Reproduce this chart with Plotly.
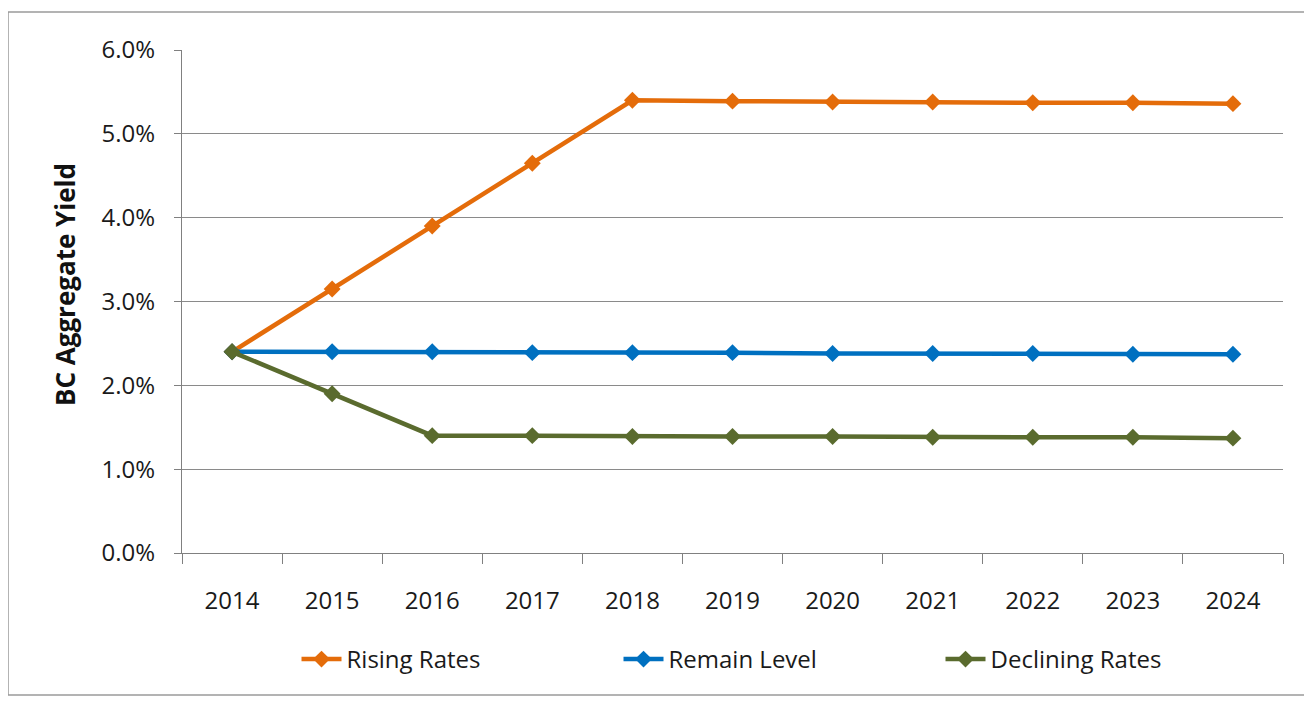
import plotly.graph_objects as go

# data (percent)
years = ["2014", "2015", "2016", "2017", "2018", "2019", "2020", "2021", "2022", "2023", "2024"]
rising_rates = [2.40, 3.15, 3.90, 4.65, 5.40, 5.39, 5.38, 5.38, 5.37, 5.37, 5.36]
remain_level = [2.40, 2.40, 2.40, 2.39, 2.39, 2.39, 2.38, 2.38, 2.38, 2.37, 2.37]
declining_rates = [2.40, 1.90, 1.40, 1.40, 1.39, 1.39, 1.39, 1.38, 1.38, 1.38, 1.37]

series = [
    ("Rising Rates", rising_rates, "#E46C0A"),
    ("Remain Level", remain_level, "#0070C0"),
    ("Declining Rates", declining_rates, "#5A6B2E"),
]

FONT = "Open Sans, sans-serif"
# page body keeps its default 8px margin, so the figure is a bit smaller
W, H = 1296, 688
ML, MR, MT, MB = 174, 21, 42, 143

fig = go.Figure()
for name, vals, col in series:
    fig.add_trace(go.Scatter(
        x=years, y=vals, name=name, mode="lines+markers",
        line=dict(color=col, width=4.5),
        marker=dict(symbol="diamond", size=13, color=col),
    ))

fig.update_xaxes(
    type="category", range=[-0.5, len(years) - 0.5],
    tickson="boundaries", ticks="outside", ticklen=10,
    tickcolor="#808080", showline=True, linecolor="#808080", linewidth=1,
    showgrid=False, tickfont=dict(size=24, color="#1a1a1a"),
    ticklabelstandoff=26, automargin=False,
)
fig.update_yaxes(
    range=[0, 6], dtick=1, tickformat=".1f", ticksuffix="%",
    ticks="outside", ticklen=7, tickcolor="#808080",
    showline=True, linecolor="#808080", linewidth=1,
    showgrid=True, gridcolor="#8a8a8a", gridwidth=1, zeroline=False,
    tickfont=dict(size=24, color="#1a1a1a"), ticklabelstandoff=14,
    automargin=False,
)

pw, ph = W - ML - MR, H - MT - MB

# y axis title, placed a little above the plot centre as in the original
fig.add_annotation(
    text="<b>BC Aggregate Yield</b>", textangle=-90,
    xref="paper", yref="paper", xanchor="center", yanchor="middle",
    x=(57 - ML) / pw, y=(H - MB - 277) / ph,
    showarrow=False, font=dict(size=26, color="#111111"),
)

# outer chart frame
fig.add_shape(
    type="rect", xref="paper", yref="paper",
    x0=(0 - ML) / pw, x1=(1297 - ML) / pw,
    y0=(H - MB - 687) / ph, y1=(H - MB - 4) / ph,
    line=dict(color="#9a9a9a", width=1.5),
)

fig.update_layout(
    width=W, height=H,
    margin=dict(l=ML, r=MR, t=MT, b=MB),
    font=dict(family=FONT, color="#1a1a1a"),
    plot_bgcolor="white", paper_bgcolor="white",
    showlegend=True,
    legend=dict(
        orientation="h", x=0.104, xanchor="left", y=-0.167, yanchor="top",
        font=dict(size=24, color="#1a1a1a"),
        entrywidth=267, itemwidth=40, traceorder="normal",
    ),
)

fig.write_html("out.html")
